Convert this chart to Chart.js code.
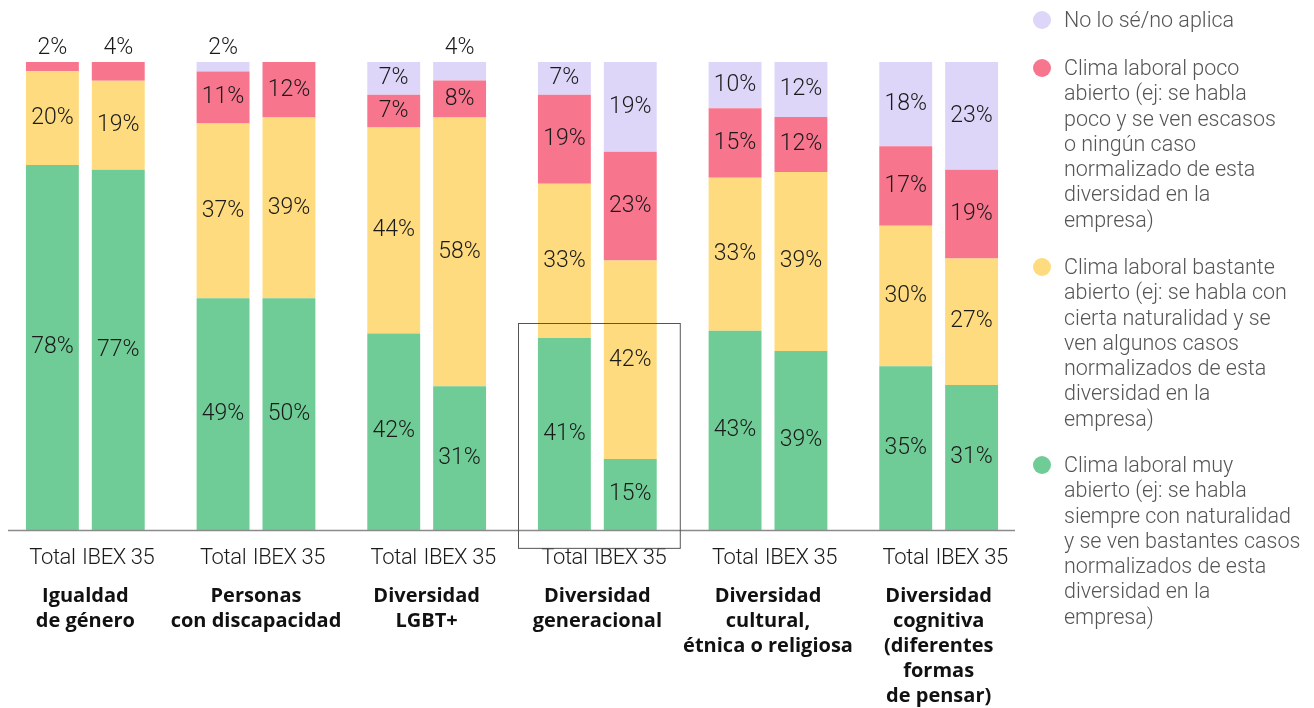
<!DOCTYPE html>
<html>
<head>
<meta charset="utf-8">
<title>Clima laboral y diversidad</title>
<script src="https://cdn.jsdelivr.net/npm/chart.js@4.4.1/dist/chart.umd.min.js"></script>
<style>
  body { margin: 0; background: #fff; }
  #wrap { position: relative; width: 1314px; height: 708px; }
  #legend { position: absolute; left: 0; top: 0; font-family: Roboto, "Open Sans", sans-serif; font-weight: 300; font-size: 21.5px; line-height: 25.3px; color: #555; }
  .item { position: absolute; left: 1064px; white-space: nowrap; }
  .dot { position: absolute; left: -31px; top: 4px; width: 18px; height: 18px; border-radius: 50%; }
</style>
</head>
<body>
<div id="wrap">
  <canvas id="chart"></canvas>
  <div id="legend">
    <div class="item" style="top:7px"><span class="dot" style="background:#ddd6f8"></span>No lo sé/no aplica</div>
    <div class="item" style="top:55px"><span class="dot" style="background:#f7768e"></span>Clima laboral poco<br>abierto (ej: se habla<br>poco y se ven escasos<br>o ningún caso<br>normalizado de esta<br>diversidad en la<br>empresa)</div>
    <div class="item" style="top:254px"><span class="dot" style="background:#fedb7e"></span>Clima laboral bastante<br>abierto (ej: se habla con<br>cierta naturalidad y se<br>ven algunos casos<br>normalizados de esta<br>diversidad en la<br>empresa)</div>
    <div class="item" style="top:452px"><span class="dot" style="background:#70cc96"></span>Clima laboral muy<br>abierto (ej: se habla<br>siempre con naturalidad<br>y se ven bastantes casos<br>normalizados de esta<br>diversidad en la<br>empresa)</div>
  </div>
</div>
<script>
// categorias (nombre en varias lineas)
const groups = [
  ['Igualdad', 'de género'],
  ['Personas', 'con discapacidad'],
  ['Diversidad', 'LGBT+'],
  ['Diversidad', 'generacional'],
  ['Diversidad', 'cultural,', 'étnica o religiosa'],
  ['Diversidad', 'cognitiva', '(diferentes', 'formas', 'de pensar)']
];
const stackNames = ['Total', 'IBEX 35'];

// % por grupo: Total / IBEX 35
const muyTotal = [78, 49, 42, 41, 43, 35];
const muyIbex = [77, 50, 31, 15, 39, 31];
const bastanteTotal = [20, 37, 44, 33, 33, 30];
const bastanteIbex = [19, 39, 58, 42, 39, 27];
const pocoTotal = [2, 11, 7, 19, 15, 17];
const pocoIbex = [4, 12, 8, 23, 12, 19];
const nsTotal = [0, 2, 7, 7, 10, 18];
const nsIbex = [0, 0, 4, 19, 12, 23];

const series = [
  { name: 'Clima laboral muy abierto', color: '#70cc96', total: muyTotal, ibex: muyIbex },
  { name: 'Clima laboral bastante abierto', color: '#fedb7e', total: bastanteTotal, ibex: bastanteIbex },
  { name: 'Clima laboral poco abierto', color: '#f7768e', total: pocoTotal, ibex: pocoIbex },
  { name: 'No lo sé/no aplica', color: '#ddd6f8', total: nsTotal, ibex: nsIbex }
];

// cada barra suma 100% (los valores redondeados no siempre dan 100)
function sums(key) {
  return groups.map((g, i) => series.reduce((a, s) => a + s[key][i], 0));
}
const sumTotal = sums('total');
const sumIbex = sums('ibex');

const datasets = [];
series.forEach(s => {
  datasets.push({
    label: s.name, stack: 'total', backgroundColor: s.color, pct: s.total,
    data: s.total.map((v, i) => v / sumTotal[i] * 100)
  });
  datasets.push({
    label: s.name, stack: 'ibex', backgroundColor: s.color, pct: s.ibex,
    data: s.ibex.map((v, i) => v / sumIbex[i] * 100)
  });
});

const overlay = {
  id: 'overlay',
  afterDatasetsDraw(chart) {
    const ctx = chart.ctx;
    const ys = chart.scales.y;
    const y0 = ys.getPixelForValue(0);
    ctx.save();

    // linea base
    ctx.strokeStyle = '#8a8a8a';
    ctx.lineWidth = 1.5;
    ctx.beginPath();
    ctx.moveTo(chart.chartArea.left + 8, y0 + 0.5);
    ctx.lineTo(chart.chartArea.right - 9, y0 + 0.5);
    ctx.stroke();

    // porcentajes
    ctx.font = '300 23px Roboto, "Open Sans", sans-serif';
    ctx.fillStyle = '#1a1a1a';
    ctx.textAlign = 'center';
    ctx.textBaseline = 'middle';
    chart.data.datasets.forEach((ds, di) => {
      const meta = chart.getDatasetMeta(di);
      meta.data.forEach((el, i) => {
        const v = ds.pct[i];
        if (!v) return;
        // segmento mas alto de su barra?
        let isTop = true;
        for (let k = di + 2; k < chart.data.datasets.length; k += 2) {
          if (chart.data.datasets[k].pct[i] > 0) isTop = false;
        }
        if (v < 5 && isTop) {
          ctx.fillText(v + '%', el.x, el.y - 14);
        } else {
          ctx.fillText(v + '%', el.x, (el.y + el.base) / 2);
        }
      });
    });

    // Total / IBEX 35 bajo cada barra
    ctx.font = '300 22px Roboto, "Open Sans", sans-serif';
    ctx.letterSpacing = '-0.4px';
    [0, 1].forEach(si => {
      const meta = chart.getDatasetMeta(si);
      meta.data.forEach(el => {
        ctx.fillText(stackNames[si], el.x, y0 + 28);
      });
    });
    ctx.letterSpacing = '0px';

    // recuadro en diversidad generacional
    const a = chart.getDatasetMeta(0).data[3];
    const b = chart.getDatasetMeta(1).data[3];
    const left = a.x - a.width / 2 - 20;
    const right = b.x + b.width / 2 + 23;
    const top = ys.getPixelForValue(44.2);
    ctx.strokeStyle = '#555';
    ctx.lineWidth = 1;
    ctx.strokeRect(Math.round(left) + 0.5, Math.round(top) + 0.5, right - left, y0 + 18 - top);
    ctx.restore();
  }
};

new Chart(document.getElementById('chart'), {
  type: 'bar',
  data: { labels: groups, datasets: datasets },
  options: {
    responsive: true,
    maintainAspectRatio: false,
    animation: false,
    categoryPercentage: 0.772,
    barPercentage: 0.803,
    layout: { padding: { left: 0, right: 290, top: 62, bottom: 0 } },
    plugins: { legend: { display: false }, tooltip: { enabled: false } },
    scales: {
      x: {
        stacked: true,
        grid: { display: false, drawTicks: false },
        border: { display: false },
        afterFit(scale) {
          scale.height = 178;
          scale.paddingLeft = 0;
          scale.paddingRight = 0;
        },
        ticks: {
          autoSkip: false,
          maxRotation: 0,
          padding: 53.5,
          color: '#111',
          font: { family: '"Open Sans", Roboto, sans-serif', size: 20, weight: 'bold', lineHeight: 1.25 }
        }
      },
      y: { stacked: true, display: false, min: 0, max: 100 }
    }
  },
  plugins: [overlay]
});
</script>
</body>
</html>
